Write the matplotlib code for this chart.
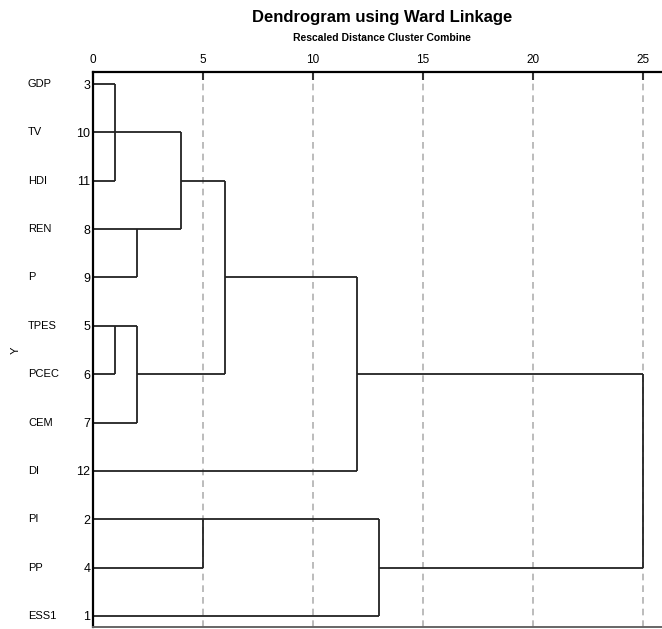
import matplotlib.pyplot as plt
import matplotlib.transforms as mtransforms

# leaves top to bottom: variable name and case number
leaf_names = ["GDP", "TV", "HDI", "REN", "P", "TPES", "PCEC", "CEM", "DI", "PI", "PP", "ESS1"]
leaf_ids = [3, 10, 11, 8, 9, 5, 6, 7, 12, 2, 4, 1]

# merges: (child a, child b, rescaled distance); ints < 12 are leaves, "m<k>" are earlier merges
merge_a = [0, "m0", 3, "m1", 5, "m4", "m3", "m6", 9, "m8", "m7"]
merge_b = [2, 1, 4, "m2", 6, 7, "m5", 8, 10, 11, "m9"]
merge_dist = [1, 1, 2, 4, 1, 2, 6, 12, 5, 13, 25]

x_ticks = [0, 5, 10, 15, 20, 25]

plt.rcParams["font.family"] = ["Liberation Sans Narrow", "Liberation Sans", "DejaVu Sans"]

fig = plt.figure(figsize=(6.62, 6.29), dpi=100)
ax = fig.add_axes([0.1405, 0.0032, 0.8595, 0.8823])

line_kw = dict(color="#222222", linewidth=1.3, solid_capstyle="butt")

rows = {}
heights = {}
for i in range(len(leaf_names)):
    rows[i] = i
    heights[i] = 0.0

for k, (a, b, d) in enumerate(zip(merge_a, merge_b, merge_dist)):
    ra, rb = rows[a], rows[b]
    ax.plot([heights[a], d], [ra, ra], **line_kw)
    ax.plot([heights[b], d], [rb, rb], **line_kw)
    ax.plot([d, d], [ra, rb], **line_kw)
    rows[f"m{k}"] = (ra + rb) // 2
    heights[f"m{k}"] = d

for t in x_ticks[1:]:
    ax.axvline(t, color="#b0b0b0", linestyle=(0, (4, 3)), linewidth=1.2, zorder=0)

ax.set_xlim(0, 25.86)
ax.set_ylim(11.23, -0.25)

ax.xaxis.tick_top()
ax.set_xticks(x_ticks)
ax.set_xticklabels([str(t) for t in x_ticks], fontsize=8.5)
ax.tick_params(axis="x", direction="in", length=6, width=1.5, pad=4, color="#333333")

ax.set_yticks(range(len(leaf_ids)))
ax.set_yticklabels([str(v) for v in leaf_ids], fontsize=9)
ax.tick_params(axis="y", length=0, pad=2)

trans = mtransforms.blended_transform_factory(fig.transFigure, ax.transData)
for i, name in enumerate(leaf_names):
    ax.text(28 / 662, i, name, transform=trans, fontsize=8, ha="left", va="center")

fig.text(16 / 662, 1 - 350 / 629, "Y", fontsize=8, rotation=90, ha="center", va="center")

ax.spines["right"].set_visible(False)
ax.spines["top"].set_linewidth(1.6)
ax.spines["left"].set_linewidth(1.6)
ax.spines["bottom"].set_linewidth(1.4)
ax.spines["bottom"].set_color("#666666")

fig.text(0.577, 0.972, "Dendrogram using Ward Linkage", fontsize=12, fontweight="bold",
         family=["Liberation Sans", "DejaVu Sans"], ha="center", va="center")
fig.text(0.577, 0.939, "Rescaled Distance Cluster Combine", fontsize=7.5, fontweight="bold",
         family=["Liberation Sans", "DejaVu Sans"], ha="center", va="center")

fig.savefig("out.png", dpi=100)
